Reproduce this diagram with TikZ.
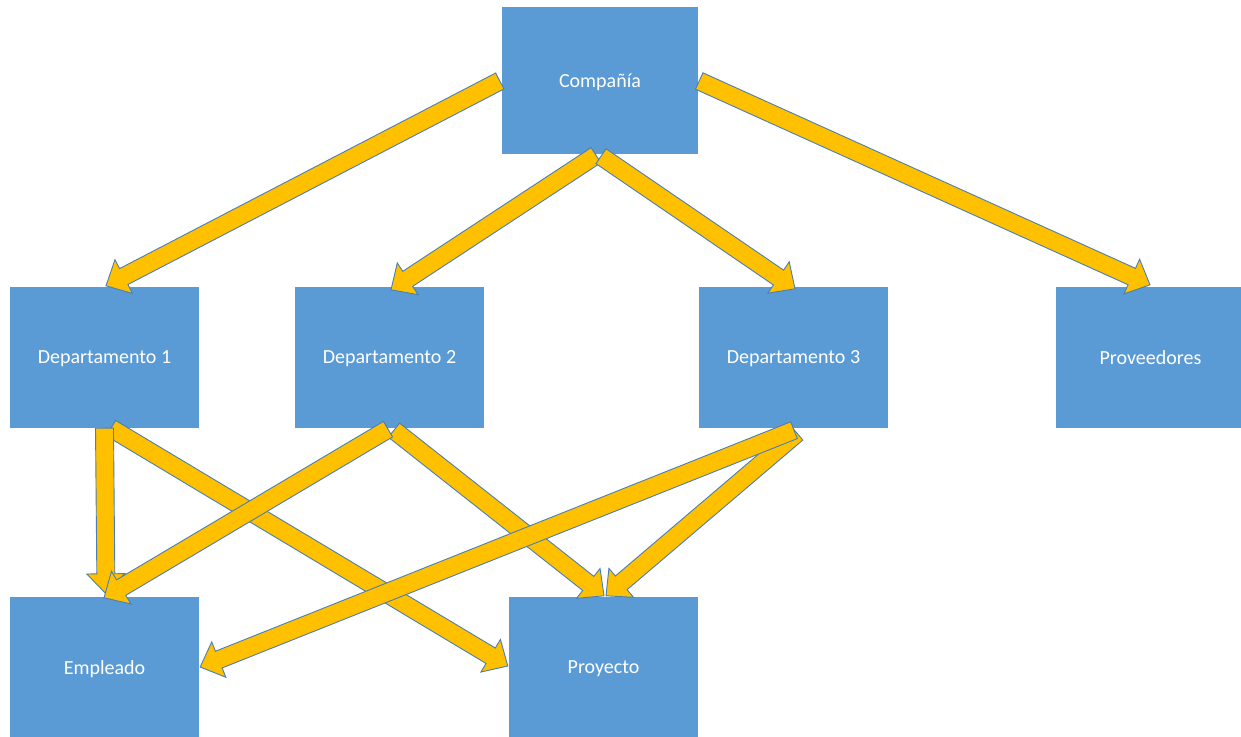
\documentclass[tikz,border=0pt]{standalone}
\usepackage{fontspec}
\setmainfont{Carlito}
\usetikzlibrary{calc}
\definecolor{boxblue}{HTML}{5B9BD5}
\definecolor{arrowgold}{HTML}{FFC000}
\definecolor{arrowedge}{HTML}{4A7EB0}
\tikzset{
  entity/.style={fill=boxblue, draw=none, inner sep=0pt,
    minimum width=189pt, minimum height=141pt, text=white,
    font=\fontsize{20}{24}\selectfont, text depth=-1.5pt},
  barrow/.style={fill=arrowgold, draw=arrowedge, line width=0.9pt, line join=miter}
}
% block arrow from tail #1 to tip #2
\newcommand{\blockarrow}[2]{%
  \coordinate (#1-#2-h) at ($(#2)!20pt!(#1)$);
  \draw[barrow]
    ($(#1)!9pt!90:(#2)$) --
    ($(#1-#2-h)!9pt!90:(#2)$) --
    ($(#1-#2-h)!19pt!90:(#2)$) --
    (#2) --
    ($(#1-#2-h)!19pt!-90:(#2)$) --
    ($(#1-#2-h)!9pt!-90:(#2)$) --
    ($(#1)!9pt!-90:(#2)$) -- cycle;
}
\begin{document}
\begin{tikzpicture}[x=1pt,y=-1pt]
\useasboundingbox (0,0) rectangle (1241,736);

\node[entity, minimum width=196pt, minimum height=147pt] (comp) at (600,80.5) {Compañía};
\node[entity] (dep1) at (104.5,357.5) {Departamento 1};
\node[entity] (dep2) at (389.5,357.5) {Departamento 2};
\node[entity] (dep3) at (793.5,357.5) {Departamento 3};
\node[entity, minimum width=189pt] (prov) at (1150.5,357.5) {Proveedores};
\node[entity] (emp) at (104.5,667.5) {Empleado};
\node[entity] (proy) at (603.5,667.5) {Proyecto};

% arrow ends
\coordinate (t1) at ($(comp.west)+(-2,0.5)$);
\coordinate (e1) at ($(dep1.north)+(1.5,-1)$);
\coordinate (t2) at ($(comp.south)+(-4,1)$);
\coordinate (e2) at ($(dep2.north)+(1.5,3)$);
\coordinate (t3) at ($(comp.south)+(1,2)$);
\coordinate (e3) at ($(dep3.north)+(1.5,2)$);
\coordinate (t4) at ($(comp.east)+(1,0.5)$);
\coordinate (e4) at ($(prov.north)+(-0.5,-2)$);

\coordinate (t5) at ($(dep1.south)+(0,0)$);
\coordinate (e5) at ($(emp.north)+(1.5,-3)$);
\coordinate (t6) at ($(dep1.south)+(6.5,0)$);
\coordinate (e6) at ($(proy.west)+(-1,-1.5)$);
\coordinate (t7) at ($(dep2.south)+(-1.5,1)$);
\coordinate (e7) at ($(emp.north)+(-0.5,1)$);
\coordinate (t8) at ($(dep2.south)+(4.5,2)$);
\coordinate (e8) at ($(proy.north)+(0.5,-1)$);
\coordinate (t9) at ($(dep3.south)+(0.5,2)$);
\coordinate (e9) at ($(emp.east)+(1,-0.5)$);
\coordinate (t10) at ($(dep3.south)+(3.5,5)$);
\coordinate (e10) at ($(proy.north)+(2.5,-1)$);

% Compañía to its four parts
\blockarrow{t1}{e1}
\blockarrow{t2}{e2}
\blockarrow{t3}{e3}
\blockarrow{t4}{e4}

% departments to Empleado and Proyecto
\blockarrow{t6}{e6}
\blockarrow{t5}{e5}
\blockarrow{t8}{e8}
\blockarrow{t7}{e7}
\blockarrow{t10}{e10}
\blockarrow{t9}{e9}
\end{tikzpicture}
\end{document}
